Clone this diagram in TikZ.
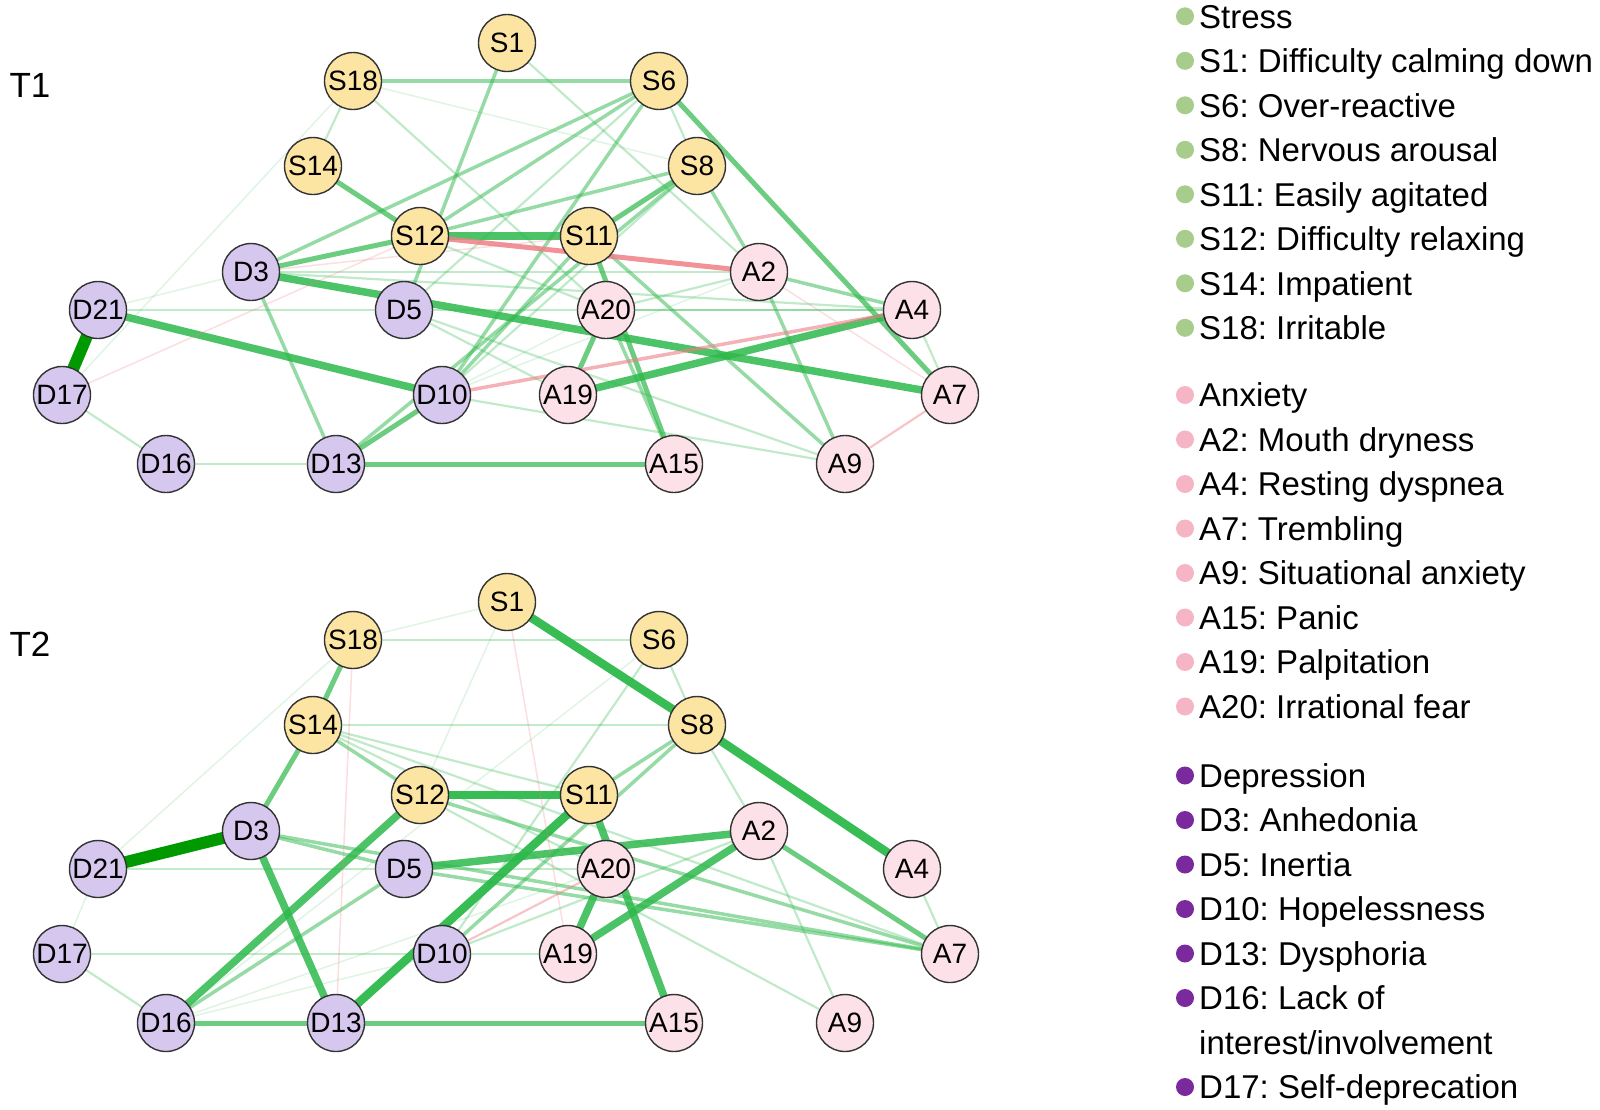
\documentclass[tikz,border=0pt]{standalone}
\usepackage{fontspec}
\setmainfont{Liberation Sans}
\usetikzlibrary{backgrounds}
\definecolor{posgreen}{HTML}{2DB84B}
\definecolor{darkgreen}{HTML}{009A00}
\definecolor{negred}{HTML}{EE7F85}
\definecolor{stressfill}{HTML}{FCE5A3}
\definecolor{anxfill}{HTML}{FDE1E9}
\definecolor{depfill}{HTML}{D5C7EE}
\definecolor{stressdot}{HTML}{A7CC8B}
\definecolor{anxdot}{HTML}{F6B5C4}
\definecolor{depdot}{HTML}{7A2A9C}
\frenchspacing
\begin{document}
\begin{tikzpicture}
[x=1pt,y=-1pt,
  symnode/.style={shape=circle,draw=black!80,line width=1.4pt,minimum size=57pt,
    inner sep=0pt,font=\fontsize{28}{32}\selectfont},
  stressnode/.style={symnode,fill=stressfill},
  anxnode/.style={symnode,fill=anxfill},
  depnode/.style={symnode,fill=depfill},
  w1/.style={posgreen,line width=1.5pt,opacity=0.15},
  w2/.style={posgreen,line width=2.2pt,opacity=0.3},
  w3/.style={posgreen,line width=3.5pt,opacity=0.5},
  w4/.style={posgreen,line width=5pt,opacity=0.7},
  w5/.style={posgreen,line width=7.5pt,opacity=0.85},
  w6/.style={posgreen,line width=8.5pt,opacity=0.95},
  w7/.style={darkgreen,line width=12pt},
  n1/.style={negred,line width=1.5pt,opacity=0.25},
  n2/.style={negred,line width=2.2pt,opacity=0.45},
  n3/.style={negred,line width=3.5pt,opacity=0.6},
  n4/.style={negred,line width=5pt,opacity=0.85},
  paneltitle/.style={anchor=west,font=\fontsize{35}{40}\selectfont},
  legdot/.style={shape=circle,inner sep=0pt,minimum size=18pt},
  legtext/.style={anchor=base west,yshift=-11.8pt,inner sep=0pt,font=\fontsize{33}{40}\selectfont}]
\useasboundingbox (0,0) rectangle (1600,1109);
%% nodes of both panels
\foreach \panel/\dy in {a/0, b/559}
{
  \foreach \nodename/\grp/\x/\y in {S1/stressnode/507/43, S18/stressnode/353/81,
    S6/stressnode/659/81, S14/stressnode/313/166, S8/stressnode/697/166,
    S12/stressnode/420/236, S11/stressnode/589/236, D3/depnode/251/272,
    A2/anxnode/759/272, D21/depnode/98/310, D5/depnode/404/310,
    A20/anxnode/606/310, A4/anxnode/912/310, D17/depnode/62/395,
    D10/depnode/442/395, A19/anxnode/568/395, A7/anxnode/950/395,
    D16/depnode/166/464, D13/depnode/336/464, A15/anxnode/674/464,
    A9/anxnode/845/464}
  {
    \node (\panel\nodename) at (\x,\y+\dy) [\grp] {\nodename};
  }
}
\node (titleT1) at (6,85) [paneltitle] {T1};
\node (titleT2) at (6,644) [paneltitle] {T2};
%% edges, T1
\begin{scope}[on background layer]
\foreach \startnode/\endnode/\wt in {D21/D17/w7, D21/D10/w5, D3/A7/w5, A19/A4/w5,
  S12/S11/w5, S14/S12/w4, S6/A7/w4, S11/S8/w4, D13/A15/w4, S11/A15/w4,
  A20/A19/w4, D3/S12/w4, D13/D10/w4, D10/S11/w3, A2/A4/w3, S11/A9/w3,
  A2/A9/w3, D3/S6/w3, S12/S8/w3, S12/S6/w3, S18/S6/w3, S1/D5/w3, D3/D13/w3,
  S8/A2/w3, S6/D10/w3, D13/S8/w3, A20/A15/w3, D10/S8/w2, S6/S8/w2, A4/A7/w2,
  S18/S14/w2, S18/A20/w2, S1/A2/w2, S6/D5/w2, D5/A9/w2, D10/A9/w2, D16/D13/w2,
  D17/D16/w2, D21/D5/w2, D5/A4/w2, A20/A4/w2, A20/A2/w2, D10/A2/w1, D3/A4/w2,
  D3/A2/w2, D5/A19/w2, D10/A20/w1, S12/A20/w2, S18/D17/w1, D21/D3/w1, S18/S8/w1,
  S12/A2/n4, D10/A4/n3, A7/A9/n2, A2/A7/n1, D3/S11/n1, D17/S12/n1}
{
  \draw[\wt] (a\startnode.center) -- (a\endnode.center);
}
%% edges, T2
\foreach \startnode/\endnode/\wt in {D21/D3/w7, S1/S8/w6, S8/A4/w6, S12/S11/w6,
  D13/S11/w6, D3/D13/w5, D16/S12/w5, D5/A2/w5, A2/A19/w5, A20/A19/w5,
  S11/A15/w5, D16/D13/w4, D13/A15/w4, S18/S14/w4, S14/D3/w4, A2/A7/w4,
  D16/D5/w3, D3/D5/w3, D5/A7/w3, D3/A7/w3, S14/S12/w3, S12/A7/w3, S8/S11/w3,
  D10/S8/w3, S14/S11/w2, S14/A20/w2, S14/A7/w2, S14/S8/w2, S18/S6/w2,
  S6/S8/w2, S8/A2/w2, A2/A9/w2, A4/A7/w2, S12/A9/w2, D21/D5/w2, D17/D10/w2,
  D10/A19/w2, D17/D16/w2, D10/A2/w2, S6/D10/w2, D5/A20/w2, D16/A20/w1,
  D16/D10/w1, S6/D16/w1, D21/D17/w1, S1/S18/w1, S1/S12/w1, D21/S18/w1,
  D10/A20/n2, S18/D13/n1, S1/A19/n1}
{
  \draw[\wt] (b\startnode.center) -- (b\endnode.center);
}
\end{scope}
%% legend
\foreach \txt/\col/\y [count=\i] in {{Stress}/stressdot/16.3,
  {S1: Difficulty calming down}/stressdot/60.8, {S6: Over-reactive}/stressdot/105.3,
  {S8: Nervous arousal}/stressdot/149.8, {S11: Easily agitated}/stressdot/194.3,
  {S12: Difficulty relaxing}/stressdot/238.8, {S14: Impatient}/stressdot/283.3,
  {S18: Irritable}/stressdot/327.8,
  {Anxiety}/anxdot/395.0, {A2: Mouth dryness}/anxdot/439.5,
  {A4: Resting dyspnea}/anxdot/484.0, {A7: Trembling}/anxdot/528.5,
  {A9: Situational anxiety}/anxdot/573.0, {A15: Panic}/anxdot/617.5,
  {A19: Palpitation}/anxdot/662.0, {A20: Irrational fear}/anxdot/706.5,
  {Depression}/depdot/775.5, {D3: Anhedonia}/depdot/820.0,
  {D5: Inertia}/depdot/864.5, {D10: Hopelessness}/depdot/909.0,
  {D13: Dysphoria}/depdot/953.5, {D16: Lack of}/depdot/998.0,
  {D17: Self-deprecation}/depdot/1087.0}
{
  \node (dot\i) at (1185,\y) [legdot,fill=\col] {};
  \node (leg\i) at (1199,\y) [legtext] {\txt};
}
\node (legwrap) at (1199,1042.5) [legtext] {interest/involvement};
\end{tikzpicture}
\end{document}
